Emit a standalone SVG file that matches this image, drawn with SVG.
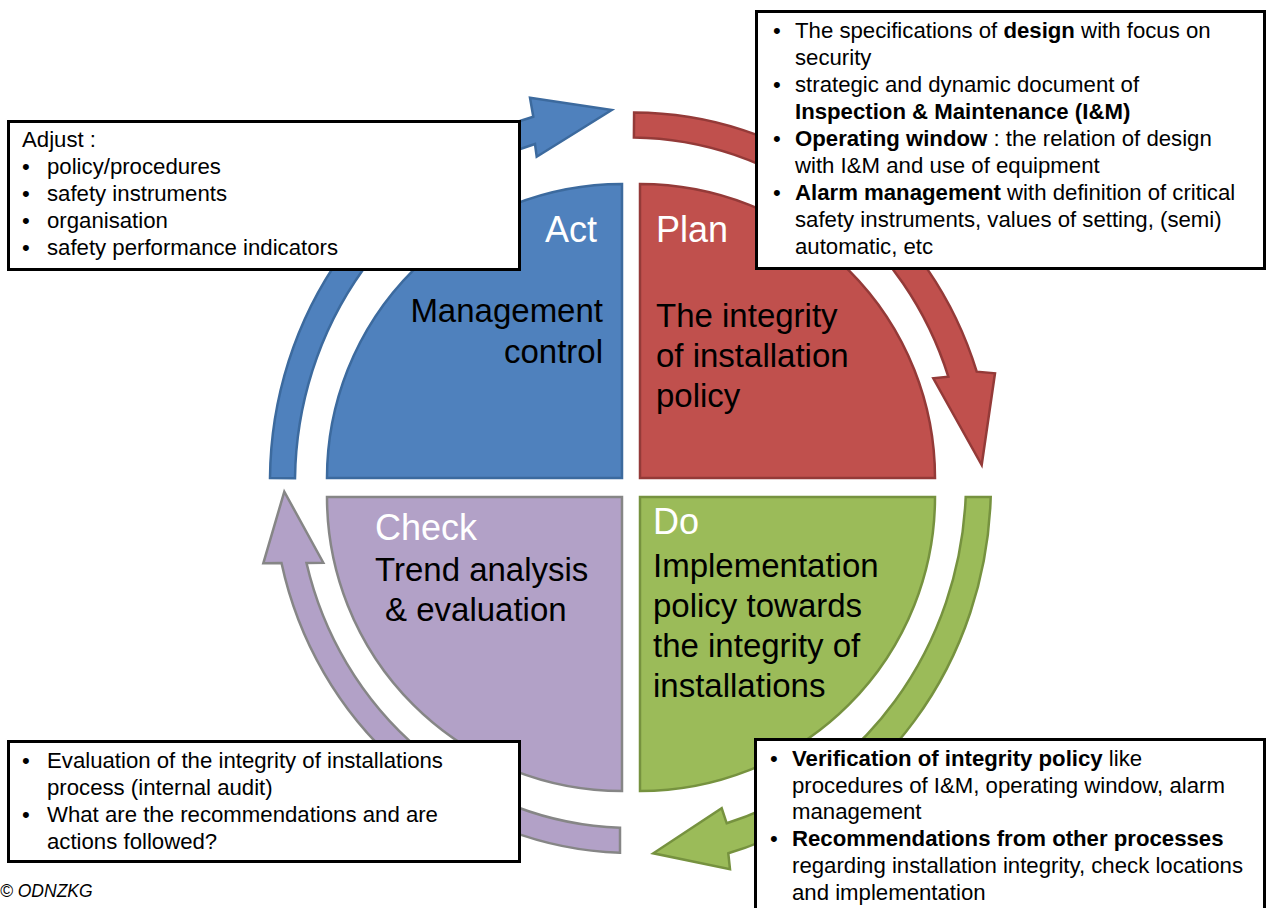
<svg xmlns="http://www.w3.org/2000/svg" width="1267" height="908" viewBox="0 0 1267 908">
<style>
text{font-family:"Liberation Sans",Arial,sans-serif;fill:#000}
.big{font-size:33px}
.hd{font-size:36px;fill:#fff}
.bx{font-size:22.2px}
.b{font-weight:bold}
.box{fill:#fff;stroke:#000;stroke-width:3}
.arr{stroke-width:2.5;stroke-linejoin:miter}
.q{stroke-width:2.5}
</style>
<g id="connectors">
<path id="arrow-act-plan" class="arr" fill="#4f81bd" stroke="#3c6a9e" d="M 270,478 A 361.5 379.1 0 0 1 533.3,116.7 L 530,97.7 L 611.7,110 L 536.7,156.7 L 535,144 A 336.5 354.1 0 0 0 295,478.2 Z"/>
<path id="arrow-plan-do" class="arr" fill="#c0504d" stroke="#943a38" d="M 634.1,112.5 A 359.8 370 0 0 1 976.7,371.7 L 995,373.3 L 981.7,465 L 933.3,378.3 L 948.3,376.7 A 334.8 345 0 0 0 633.9,137.5 Z"/>
<path id="arrow-do-check" class="arr" fill="#9bbb59" stroke="#76923f" d="M 990.7,497 A 359.5 382.5 0 0 1 728.3,853.3 L 730,869.3 L 653.3,853.3 L 721.7,808.3 L 726.7,823.3 A 334.5 357.5 0 0 0 965.7,497 Z"/>
<path id="arrow-check-act" class="arr" fill="#b2a1c7" stroke="#868686" d="M 620,852.8 A 358.8 370.5 0 0 1 281.5,563 L 263.3,563.3 L 284.3,491.7 L 323.3,562.7 L 306.5,563 A 333.8 345.5 0 0 0 620,827.8 Z"/>
</g>
<g id="act">
<path class="q" fill="#4f81bd" stroke="#3c6a9e" d="M 622,478 L 327,478 A 295 294 0 0 1 622,184 Z"/>
<text class="hd" x="597" y="242" text-anchor="end">Act</text>
<text class="big" x="603" y="322" text-anchor="end">Management</text>
<text class="big" x="603" y="363" text-anchor="end">control</text>
</g>
<g id="plan">
<path class="q" fill="#c0504d" stroke="#943a38" d="M 640,478 L 640,184 A 295 294 0 0 1 935,478 Z"/>
<text class="hd" x="656" y="242">Plan</text>
<text class="big" x="656" y="327">The integrity</text>
<text class="big" x="656" y="367">of installation</text>
<text class="big" x="656" y="407">policy</text>
</g>
<g id="check">
<path class="q" fill="#b2a1c7" stroke="#868686" d="M 622,497 L 622,791 A 295 294 0 0 1 327,497 Z"/>
<text class="hd" x="375" y="540">Check</text>
<text class="big" x="375" y="581">Trend analysis</text>
<text class="big" x="385" y="621">&amp; evaluation</text>
</g>
<g id="do">
<path class="q" fill="#9bbb59" stroke="#76923f" d="M 640,497 L 935,497 A 295 294 0 0 1 640,791 Z"/>
<text class="hd" x="653" y="534">Do</text>
<text class="big" x="653" y="577">Implementation</text>
<text class="big" x="653" y="617">policy towards</text>
<text class="big" x="653" y="657">the integrity of</text>
<text class="big" x="653" y="697">installations</text>
</g>
<g id="box-act">
<rect class="box" x="8.5" y="121.5" width="511" height="148"/>
<text class="bx" x="22" y="147">Adjust :</text>
<text class="bx" x="22" y="174">•</text><text class="bx" x="47" y="174">policy/procedures</text>
<text class="bx" x="22" y="201">•</text><text class="bx" x="47" y="201">safety instruments</text>
<text class="bx" x="22" y="228">•</text><text class="bx" x="47" y="228">organisation</text>
<text class="bx" x="22" y="255">•</text><text class="bx" x="47" y="255">safety performance indicators</text>
</g>
<g id="box-plan">
<rect class="box" x="756.5" y="11.5" width="508" height="257"/>
<text class="bx" x="773" y="37.5">•</text><text class="bx" x="795" y="37.5">The specifications of <tspan class="b">design</tspan> with focus on</text>
<text class="bx" x="795" y="64.5">security</text>
<text class="bx" x="773" y="91.5">•</text><text class="bx" x="795" y="91.5">strategic and dynamic document of</text>
<text class="bx b" x="795" y="118.5">Inspection &amp; Maintenance (I&amp;M)</text>
<text class="bx" x="773" y="145.5">•</text><text class="bx" x="795" y="145.5"><tspan class="b">Operating window</tspan> : the relation of design</text>
<text class="bx" x="795" y="172.5">with I&amp;M and use of equipment</text>
<text class="bx" x="773" y="199.5">•</text><text class="bx" x="795" y="199.5"><tspan class="b">Alarm management</tspan> with definition of critical</text>
<text class="bx" x="795" y="226.5">safety instruments, values of setting, (semi)</text>
<text class="bx" x="795" y="253.5">automatic, etc</text>
</g>
<g id="box-check">
<rect class="box" x="8.5" y="741.5" width="511" height="120"/>
<text class="bx" x="22" y="768">•</text><text class="bx" x="47" y="768">Evaluation of the integrity of installations</text>
<text class="bx" x="47" y="795">process (internal audit)</text>
<text class="bx" x="22" y="822">•</text><text class="bx" x="47" y="822">What are the recommendations and are</text>
<text class="bx" x="47" y="849">actions followed?</text>
</g>
<g id="box-do">
<rect class="box" x="755.5" y="739.5" width="509" height="180"/>
<text class="bx" x="770" y="766">•</text><text class="bx" x="792" y="766"><tspan class="b">Verification of integrity policy</tspan> like</text>
<text class="bx" x="792" y="792.7">procedures of I&amp;M, operating window, alarm</text>
<text class="bx" x="792" y="819.4">management</text>
<text class="bx" x="770" y="846.1">•</text><text class="bx b" x="792" y="846.1">Recommendations from other processes</text>
<text class="bx" x="792" y="872.8">regarding installation integrity, check locations</text>
<text class="bx" x="792" y="899.5">and implementation</text>
</g>
<g id="copyright">
<text x="0" y="897" style="font-size:17.5px;font-style:italic">© ODNZKG</text>
</g>
</svg>
